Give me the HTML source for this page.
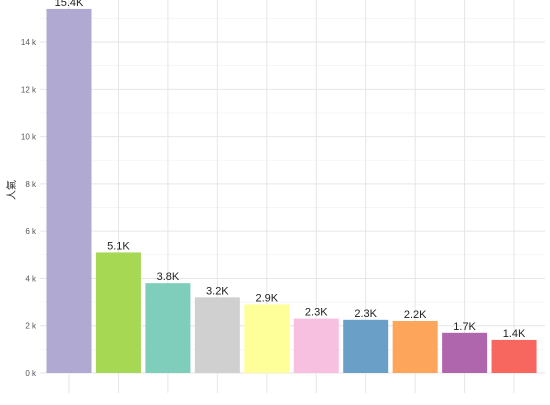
<!DOCTYPE html>
<html><head><meta charset="utf-8"><style>
body{margin:0;background:#fff;width:550px;height:400px;overflow:hidden}
text{font-family:"Liberation Sans","Noto Sans CJK TC",sans-serif}
</style></head><body>
<svg id="c" width="550" height="400"></svg>
<script>
const categories=["A","B","C","D","E","F","G","H","I","J"];
const values=[15.4,5.1,3.8,3.2,2.9,2.3,2.25,2.2,1.7,1.4];
const valueLabels=["15.4K","5.1K","3.8K","3.2K","2.9K","2.3K","2.3K","2.2K","1.7K","1.4K"];
const colors=["#b0a9d2","#a6d854","#7fcdbb","#d0d0d0","#ffff99","#f8c0e0","#6aa0c8","#fda55a","#b066ad","#f8675f"];
const yTicks=[0,2,4,6,8,10,12,14];
const yTickLabels=["0 k","2 k","4 k","6 k","8 k","10 k","12 k","14 k"];
const svg=document.getElementById('c');const NS="http://www.w3.org/2000/svg";
const y0=373,perK=23.64,x0=69,step=49.45,bw=45,left=40,right=545;
const y=v=>y0-v*perK, x=i=>x0+i*step;
function mk(t,a,p){const e=document.createElementNS(NS,t);for(const k in a)e.setAttribute(k,a[k]);(p||svg).appendChild(e);return e;}
for(let v=1;v<=15;v+=2){const l=mk('line',{x1:left,x2:right,y1:y(v),y2:y(v),stroke:'#f0f0f0','stroke-width':0.6});

}
yTicks.forEach((v,i)=>{const l=mk('line',{x1:left,x2:right,y1:y(v),y2:y(v),stroke:'#e6e6e6','stroke-width':1});


const t=mk('text',{x:36,y:y(v)+3,'text-anchor':'end','font-size':8,fill:'#555'});t.textContent=yTickLabels[i];

});
categories.forEach((c,i)=>{const l=mk('line',{x1:x(i),x2:x(i),y1:0,y2:393,stroke:'#e6e6e6','stroke-width':1});

});
categories.forEach((c,i)=>{const r=mk('rect',{x:x(i)-bw/2,y:y(values[i]),width:bw,height:values[i]*perK,fill:colors[i]});


const t=mk('text',{x:x(i),y:y(values[i])-3,'text-anchor':'middle','font-size':11,fill:'#222'});t.textContent=valueLabels[i];

});
const yt=mk('text',{x:0,y:0,transform:'translate(15,190) rotate(-90)','text-anchor':'middle','font-size':10,fill:'#222'});yt.textContent="人氣";


</script>
</body></html>
